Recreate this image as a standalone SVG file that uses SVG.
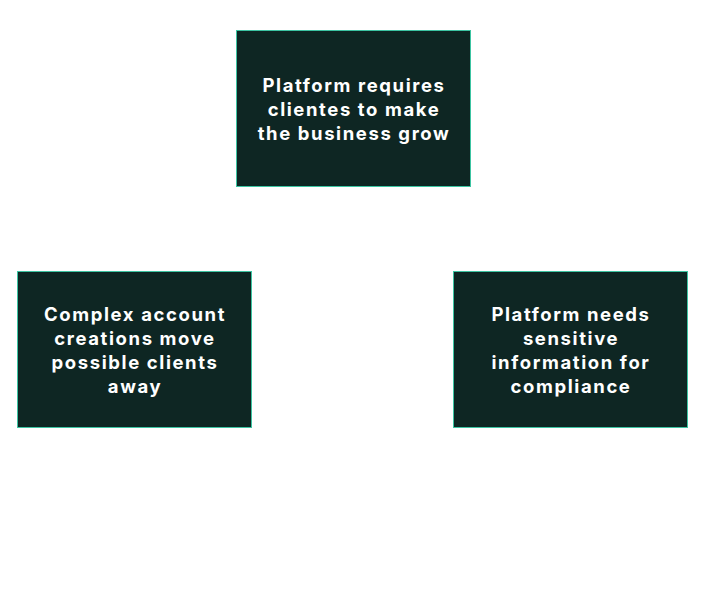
<svg xmlns="http://www.w3.org/2000/svg" width="708" height="591" viewBox="0 0 708 591">
  <style>
    .box { fill: #0e2623; stroke: #3cc4a2; stroke-width: 1; }
    .lbl { fill: #ffffff; font-family: Inter, "Open Sans", "Liberation Sans", sans-serif; font-weight: 700; font-size: 18.5px; letter-spacing: 1.6px; text-anchor: middle; }
  </style>
  <rect width="708" height="591" fill="#ffffff"/>
  <g id="connectors"></g>
  <g id="node-growth">
    <rect class="box" x="236.5" y="30.5" width="234" height="156"/>
    <text class="lbl" x="354" y="92">Platform requires</text>
    <text class="lbl" x="354" y="116">clientes to make</text>
    <text class="lbl" x="354" y="140">the business grow</text>
  </g>
  <g id="node-account">
    <rect class="box" x="17.5" y="271.5" width="234" height="156"/>
    <text class="lbl" x="135" y="321">Complex account</text>
    <text class="lbl" x="135" y="345">creations move</text>
    <text class="lbl" x="135" y="369">possible clients</text>
    <text class="lbl" x="135" y="393">away</text>
  </g>
  <g id="node-compliance">
    <rect class="box" x="453.5" y="271.5" width="234" height="156"/>
    <text class="lbl" x="571" y="321">Platform needs</text>
    <text class="lbl" x="571" y="345">sensitive</text>
    <text class="lbl" x="571" y="369">information for</text>
    <text class="lbl" x="571" y="393">compliance</text>
  </g>
</svg>
